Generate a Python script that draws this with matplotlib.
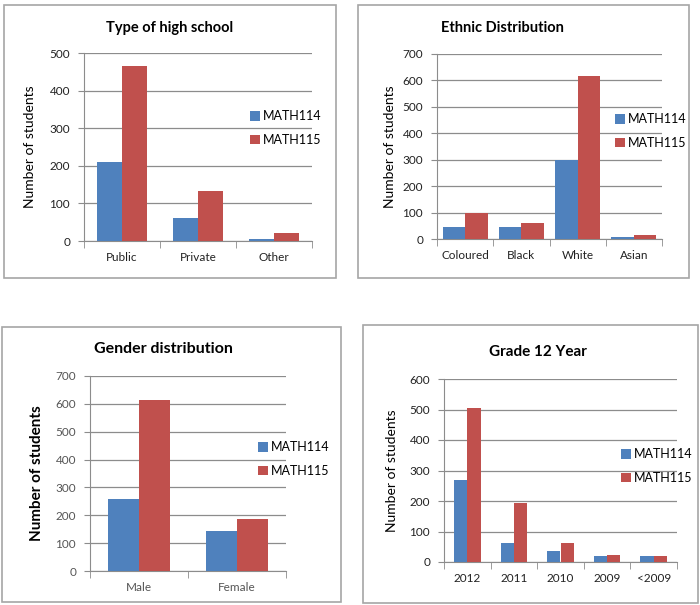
import numpy as np
import matplotlib.pyplot as plt
from matplotlib.patches import Rectangle

plt.rcParams['font.family'] = ['Lato', 'DejaVu Sans']

# Data
school_cats = ['Public', 'Private', 'Other']
school_114 = [211, 60, 4]
school_115 = [466, 132, 20]

ethnic_cats = ['Coloured', 'Black', 'White', 'Asian']
ethnic_114 = [47, 44, 299, 8]
ethnic_115 = [100, 59, 615, 16]

gender_cats = ['Male', 'Female']
gender_114 = [257, 142]
gender_115 = [613, 186]

year_cats = ['2012', '2011', '2010', '2009', '<2009']
year_114 = [268, 62, 36, 21, 19]
year_115 = [504, 195, 62, 23, 19]

series_names = ['MATH114', 'MATH115']
blue = '#4F81BD'
red = '#C0504D'
W, H = 700, 605

fig = plt.figure(figsize=(7, 6.05), dpi=100)


def frac(x0, x1, ytop, ybot):
    return [x0 / W, 1 - ybot / H, (x1 - x0) / W, (ybot - ytop) / H]


def draw_box(x0, x1, ytop, ybot):
    r = Rectangle((x0 / W, 1 - ybot / H), (x1 - x0) / W, (ybot - ytop) / H,
                  transform=fig.transFigure, fill=False, edgecolor='#a6a6a6', lw=1.2)
    fig.patches.append(r)


def panel(rect, box, cats, v114, v115, ymax, bw, title, title_xy, title_size,
          ylab_x, leg_xy, bold_ylabel=False, ylab_size=10, tick_color='#222222'):
    draw_box(*box)
    ax = fig.add_axes(frac(*rect))
    n = len(cats)
    x = np.arange(n)
    ax.bar(x - bw, v114, width=bw, align='edge', color=blue, label=series_names[0], zorder=3)
    ax.bar(x, v115, width=bw, align='edge', color=red, label=series_names[1], zorder=3)
    ax.set_xlim(-0.5, n - 0.5)
    ax.set_ylim(0, ymax)
    ax.set_yticks(np.arange(0, ymax + 1, 100))
    ax.grid(axis='y', color='#8c8c8c', lw=0.9, zorder=0)
    for s in ['top', 'right']:
        ax.spines[s].set_visible(False)
    for s in ['left', 'bottom']:
        ax.spines[s].set_color('#8c8c8c')
    ax.set_xticks(x)
    ax.set_xticklabels(cats, fontsize=8.5, color=tick_color)
    ax.set_xticks(np.arange(n + 1) - 0.5, minor=True)
    ax.tick_params(axis='x', which='major', length=0, pad=8)
    ax.tick_params(axis='x', which='minor', length=5, color='#8c8c8c')
    ax.tick_params(axis='y', length=4, color='#8c8c8c', labelsize=8.5,
                   labelcolor=tick_color, pad=6)
    fig.text(title_xy[0] / W, 1 - title_xy[1] / H, title, ha='center', va='center',
             fontsize=title_size, fontweight='bold')
    yc = (rect[2] + rect[3]) / 2
    fig.text(ylab_x / W, 1 - yc / H, 'Number of students', rotation=90,
             ha='center', va='center', fontsize=ylab_size,
             fontweight='bold' if bold_ylabel else 'normal')
    ax.legend(loc='center left', bbox_to_anchor=(leg_xy[0] / W, 1 - leg_xy[1] / H),
              bbox_transform=fig.transFigure, frameon=False, fontsize=9,
              handlelength=0.8, handleheight=0.8, handletextpad=0.2,
              labelspacing=0.9, borderpad=0, borderaxespad=0)
    return ax


panel((84, 312, 53, 241), (4, 336, 5, 278), school_cats, school_114, school_115,
      500, 0.335, 'Type of high school', (170, 28), 10.5, 30, (250, 128))
panel((437, 662, 54, 239), (358, 689, 5, 278), ethnic_cats, ethnic_114, ethnic_115,
      700, 0.4, 'Ethnic Distribution', (502, 28), 10.5, 390, (615, 131))
panel((90, 286, 376, 571), (2, 341, 327, 602), gender_cats, gender_114, gender_115,
      700, 0.32, 'Gender distribution', (163, 349), 11.5, 37, (258, 459),
      bold_ylabel=True, ylab_size=11, tick_color='#555555')
panel((444, 677, 379, 562), (363, 698, 325, 603), year_cats, year_114, year_115,
      600, 0.286, 'Grade 12 Year', (538, 352), 11, 392, (621, 466))

fig.savefig('out.png', dpi=100)
